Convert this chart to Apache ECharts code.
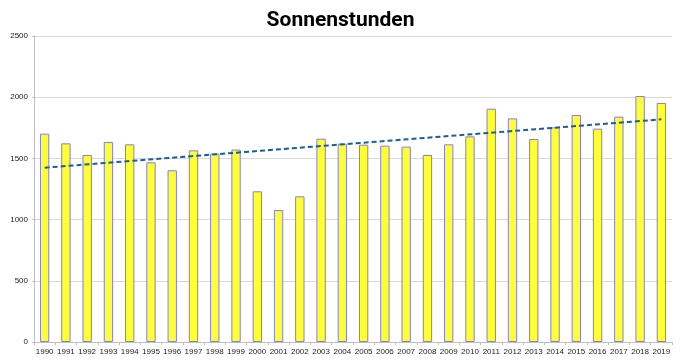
<!DOCTYPE html>
<html><head><meta charset="utf-8">
<script src="https://cdn.jsdelivr.net/npm/echarts@6/dist/echarts.min.js"></script>
<style>html,body{margin:0;padding:0;background:#fff}#c{width:681px;height:363px}</style>
</head><body><div id="c"></div>
<script>
const years = ['1990','1991','1992','1993','1994','1995','1996','1997','1998','1999','2000','2001','2002','2003','2004','2005','2006','2007','2008','2009','2010','2011','2012','2013','2014','2015','2016','2017','2018','2019'];
const sunHours = [1702,1623,1528,1634,1615,1468,1403,1566,1539,1572,1231,1078,1190,1661,1620,1612,1604,1596,1528,1615,1680,1906,1827,1658,1754,1855,1743,1841,2010,1953];
const trendStart = 1424;
const trendEnd = 1819;
const yTicks = [0,500,1000,1500,2000,2500];

const trendData = years.map((y,i)=> i===0 ? trendStart : (i===years.length-1 ? trendEnd : null));

const chart = echarts.init(document.getElementById('c'), null, {renderer:'canvas'});
chart.setOption({
  animation:false,
  backgroundColor:'#fff',
  title:{text:'Sonnenstunden', left:'center', top:5,
    textStyle:{fontFamily:'Roboto', fontWeight:'bold', fontSize:21, color:'#000'}},
  grid:{left:34, right:9, top:36, bottom:21, containLabel:false},
  xAxis:{type:'category', data:years, boundaryGap:true,
    axisLine:{lineStyle:{color:'#BFBFBF', width:1}},
    axisTick:{show:true, length:3, lineStyle:{color:'#BFBFBF'}},
    axisLabel:{fontSize:8, color:'#222', fontFamily:'Liberation Sans', margin:6, interval:0}},
  yAxis:{type:'value', min:yTicks[0], max:yTicks[yTicks.length-1], interval:500,
    axisLine:{show:true, lineStyle:{color:'#BFBFBF'}},
    axisTick:{show:true, length:2, lineStyle:{color:'#BFBFBF'}},
    splitLine:{lineStyle:{color:'#D9D9D9', width:1}},
    axisLabel:{fontSize:8, color:'#222', fontFamily:'Liberation Sans', margin:6,
      formatter:(v)=>String(v)}},
  series:[
    {type:'bar', data:sunHours, barWidth:'44%',
      itemStyle:{color:'#FFFF33', borderColor:'#8080E0', borderWidth:1}},
    {type:'line', data:trendData, connectNulls:true, symbol:'none',
      lineStyle:{color:'#1F5C99', width:2, type:[5,3]}, z:5}
  ]
});
</script></body></html>
